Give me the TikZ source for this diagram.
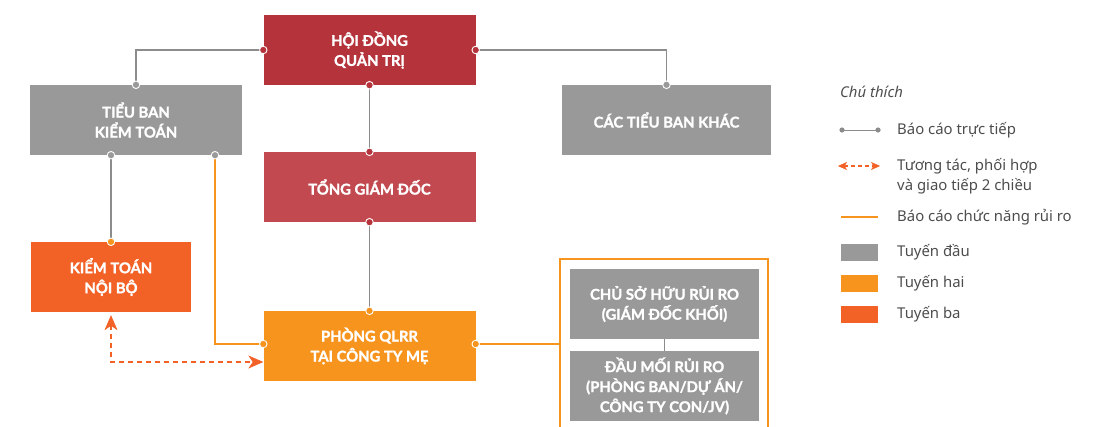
\documentclass[tikz,border=0pt]{standalone}
\usepackage{fontspec}
\setmainfont{Noto Sans}
\newfontfamily\boxfont{Lato}[BoldFeatures={FakeBold=1.6}]
\usetikzlibrary{arrows.meta}
\definecolor{boardred}{HTML}{B5333A}
\definecolor{ceored}{HTML}{C1494F}
\definecolor{lineone}{HTML}{999999}
\definecolor{linetwo}{HTML}{F7941D}
\definecolor{linethree}{HTML}{F26126}
\definecolor{wire}{HTML}{8C8C8C}
\definecolor{legendtext}{HTML}{4D4D4D}
\tikzset{
  x=1pt, y=-1pt,
  unit/.style={draw=none, fill=#1, text=white, align=center,
    font=\boxfont\bfseries\fontsize{14.8}{20}\selectfont,
    inner sep=0pt, minimum height=70pt},
  report/.style={draw=wire, line width=1.1pt},
  riskline/.style={draw=linetwo, line width=1.4pt},
  bigtip/.tip={Stealth[length=15pt,width=13pt,inset=4.5pt,fill=linethree,line width=0.6pt]},
  smalltip/.tip={Stealth[length=9pt,width=8pt,inset=2.5pt,fill=linethree,line width=0.4pt]},
  talk/.style={draw=linethree, line width=1.4pt, dash pattern=on 5pt off 4pt},
  dot/.style={circle, fill=#1, draw=white, line width=0.9pt, inner sep=0pt, minimum size=7.5pt},
  legend/.style={anchor=west, text=legendtext, font=\fontsize{14.9}{19.5}\selectfont, align=left, inner sep=0pt},
  swatch/.style={fill=#1, draw=none, minimum width=37pt, minimum height=17pt, inner sep=0pt},
}
\begin{document}
\begin{tikzpicture}
\useasboundingbox (0,0) rectangle (1099,426);

% organisation units
\node[unit=boardred, minimum width=212pt] (hdqt) at (369.5,50) {HỘI ĐỒNG\\QUẢN TRỊ};
\node[unit=lineone, minimum width=212pt] (tbkt) at (136,120) {TIỂU BAN\\KIỂM TOÁN};
\node[unit=lineone, minimum width=209pt] (ctbk) at (666.5,120) {CÁC TIỂU BAN KHÁC};
\node[unit=ceored, minimum width=212pt] (tgd) at (369.5,187) {TỔNG GIÁM ĐỐC};
\node[unit=linethree, minimum width=160pt] (ktnb) at (111,277) {KIỂM TOÁN\\NỘI BỘ};
\node[unit=linetwo, minimum width=212pt] (qlrr) at (369.5,346) {PHÒNG QLRR\\TẠI CÔNG TY MẸ};

% first-line group, open at the bottom
\node[draw=linetwo, line width=1.4pt, minimum width=208pt, minimum height=190pt, inner sep=0pt]
  (group) at (664,354) {};
\node[unit=lineone, minimum width=189pt] (csh) at (664.5,304) {CHỦ SỞ HỮU RỦI RO\\(GIÁM ĐỐC KHỐI)};
\node[unit=lineone, minimum width=189pt] (dm) at (664.5,386) {ĐẦU MỐI RỦI RO\\(PHÒNG BAN/DỰ ÁN/\\CÔNG TY CON/JV)};

% connection points (yshift is measured upwards)
\coordinate (tbktA) at ([xshift=-25pt]tbkt.south);
\coordinate (tbktB) at ([xshift=79pt]tbkt.south);
\coordinate (qlrrL) at ([yshift=2pt]qlrr.west);
\coordinate (qlrrT) at ([yshift=-16pt]qlrr.west);
\coordinate (groupL) at (group.west |- qlrrL);

% direct reporting lines
\draw[report] (hdqt.west) -| (tbkt.north);
\draw[report] (hdqt.east) -| (ctbk.north);
\draw[report] (hdqt.south) -- (tgd.north);
\draw[report] (tgd.south) -- (qlrr.north);
\draw[report] (tbktA) -- (tbktA |- ktnb.north);
\draw[report] (csh.south) -- (dm.north);

% risk function reporting
\draw[riskline] (tbktB) |- (qlrrL);
\draw[riskline] (qlrr.east |- qlrrL) -- (groupL);

% two-way interaction
\draw[talk, bigtip-bigtip] ([yshift=-3pt]tbktA |- ktnb.south) |- (qlrrT);

% end dots
\node[dot=boardred] at (hdqt.west) {};
\node[dot=boardred] at (hdqt.east) {};
\node[dot=boardred] at (hdqt.south) {};
\node[dot=lineone] at (tbkt.north) {};
\node[dot=lineone] at (ctbk.north) {};
\node[dot=boardred] at (tgd.north) {};
\node[dot=boardred] at (tgd.south) {};
\node[dot=linetwo] at (qlrr.north) {};
\node[dot=lineone] at (tbktA) {};
\node[dot=lineone] at (tbktB) {};
\node[dot=linetwo] at (tbktA |- ktnb.north) {};
\node[dot=linetwo] at (qlrrL) {};
\node[dot=linetwo] at (qlrr.east |- qlrrL) {};

% legend
\node[legend, font=\itshape\fontsize{14.9}{19.5}\selectfont] (title) at (840,92) {Chú thích};
\coordinate (l1a) at (842,130);
\coordinate (l1b) at (878,130);
\draw[report, line width=0.9pt] (l1a) -- (l1b);
\fill[wire] (l1a) circle (2.6pt) (l1b) circle (2.6pt);
\node[legend] (t1) at (897,130) {Báo cáo trực tiếp};
\coordinate (l2a) at (838,166);
\coordinate (l2b) at (880,166);
\draw[talk, line width=1.2pt, dash pattern=on 4pt off 3pt, smalltip-smalltip] (l2a) -- (l2b);
\node[legend] (t2) at (897,176) {Tương tác, phối hợp\\và giao tiếp 2 chiều};
\coordinate (l3a) at (841,217);
\coordinate (l3b) at (878,217);
\draw[riskline] (l3a) -- (l3b);
\node[legend] (t3) at (897,217) {Báo cáo chức năng rủi ro};
\node[swatch=lineone] (s1) at (859.5,252) {};
\node[legend] (t4) at (897,252) {Tuyến đầu};
\node[swatch=linetwo] (s2) at (859.5,283) {};
\node[legend] (t5) at (897,283) {Tuyến hai};
\node[swatch=linethree] (s3) at (859.5,314) {};
\node[legend] (t6) at (897,314) {Tuyến ba};
\end{tikzpicture}
\end{document}
